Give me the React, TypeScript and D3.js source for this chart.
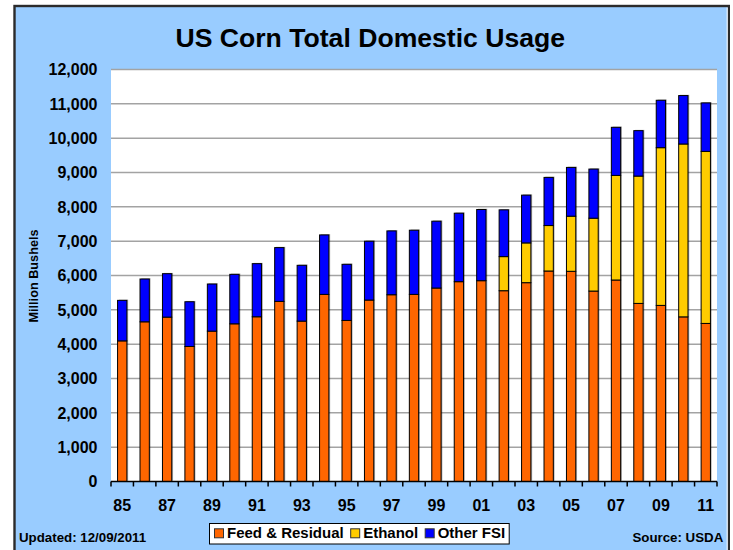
import React from "react";
import * as d3 from "d3";

const years = ["85","86","87","88","89","90","91","92","93","94","95","96","97","98","99","00","01","02","03","04","05","06","07","08","09","10","11"];
const feedResidual = [4096,4651,4788,3932,4380,4593,4798,5246,4672,5450,4691,5285,5440,5450,5635,5820,5849,5557,5791,6131,6122,5547,5869,5187,5129,4795,4604];
const ethanol = [0,0,0,0,0,0,0,0,0,0,0,0,0,0,0,0,0,993,1158,1324,1606,2122,3046,3709,4594,5035,5011];
const otherFSI = [1180,1247,1265,1304,1372,1441,1547,1567,1625,1732,1635,1713,1859,1869,1947,1995,2073,1362,1392,1402,1420,1431,1401,1323,1381,1411,1412];
const yTicks = [0,1000,2000,3000,4000,5000,6000,7000,8000,9000,10000,11000,12000];
const seriesNames = ["Feed & Residual","Ethanol","Other FSI"];
const seriesColors = ["#FF6600","#FFCC00","#0000FF"];

const FONT = "'Liberation Sans', Arial, Helvetica, sans-serif";

export default function App() {
  const W = 733, H = 550;
  const plot = { left: 111, right: 717, top: 69.5, bottom: 481.5 };

  const x = d3.scaleBand<string>().domain(years).range([plot.left, plot.right]).paddingInner(0.585).paddingOuter(0.2925);
  const step = (plot.right - plot.left) / years.length;
  const y = d3.scaleLinear().domain([0, 12000]).range([plot.bottom, plot.top]);

  const rows = years.map((yr, i) => ({ yr, s0: feedResidual[i], s1: ethanol[i], s2: otherFSI[i] }));
  const stack = d3.stack<any>().keys(["s0","s1","s2"])(rows);
  const fmt = d3.format(",");

  // legend layout
  const legendFont = 15;
  let measure = (t: string) => t.length * 8;
  if (typeof document !== "undefined") {
    const ctx = document.createElement("canvas").getContext("2d");
    if (ctx) {
      ctx.font = `bold ${legendFont}px ${FONT}`;
      measure = (t: string) => ctx.measureText(t).width;
    }
  }
  const legendX0 = 209.5, legendY0 = 523.5, legendH = 20.5;
  let cur = legendX0 + 5;
  const legendItems = seriesNames.map((n, i) => {
    const item = { n, c: seriesColors[i], sx: cur, tx: cur + 12.5 };
    cur = item.tx + measure(n) + 7;
    return item;
  });
  const legendW = cur - 3 - legendX0;

  const boundaries = d3.range(years.length + 1).map(i => plot.left + i * step);

  return (
    <svg width={W} height={H} style={{ position: "absolute", left: 0, top: 0 }} fontFamily={FONT}>
      <rect x={0} y={0} width={W} height={H} fill="#ffffff" />
      <rect x={14.5} y={6} width={714.3} height={560} fill="#99CCFF" stroke="#2b2b2b" strokeWidth={2.4} />
      <line x1={727.2} x2={727.2} y1={7.5} y2={H} stroke="#ffffff" strokeWidth={1} />
      {/* title */}
      <text x={370.3} y={46.7} textAnchor="middle" fontSize={26.6} fontWeight="bold" fill="#000">US Corn Total Domestic Usage</text>
      {/* plot area */}
      <rect x={plot.left} y={plot.top} width={plot.right - plot.left} height={plot.bottom - plot.top} fill="#ffffff" />
      {yTicks.filter(t => t > 0).map(t => (
        <line key={t} x1={plot.left} x2={plot.right} y1={y(t)} y2={y(t)} stroke="#A3A3A3" strokeWidth={1.5} />
      ))}
      {/* y labels */}
      {yTicks.map(t => (
        <text key={t} x={97.5} y={y(t) + 5.7} textAnchor="end" fontSize={16} fontWeight="bold" fill="#000">{fmt(t)}</text>
      ))}
      <text transform={`translate(37.5,276) rotate(-90)`} textAnchor="middle" fontSize={12.7} fontWeight="bold" fill="#000">Million Bushels</text>
      {/* bars */}
      {stack.map((layer, li) => (
        <g key={li}>
          {layer.map((d, i) => {
            const h = y(d[0]) - y(d[1]);
            if (h <= 0) return null;
            const bx = x(years[i])!;
            return (
              <g key={i}>
                <rect x={bx + 1.3} y={y(d[1]) - 0.8} width={x.bandwidth()} height={h} fill="#000" opacity={0.3} />
                <rect x={bx} y={y(d[1])} width={x.bandwidth()} height={h} fill={seriesColors[li]} stroke="#000" strokeWidth={1} />
              </g>
            );
          })}
        </g>
      ))}
      {/* x axis */}
      <line x1={plot.left} x2={plot.right} y1={plot.bottom} y2={plot.bottom} stroke="#000" strokeWidth={1.5} />
      {boundaries.map((bx, i) => (
        <line key={i} x1={bx} x2={bx} y1={plot.bottom} y2={plot.bottom + 5} stroke="#000" strokeWidth={1.5} />
      ))}
      {years.map((yr, i) => i % 2 === 0 ? (
        <text key={yr} x={x(yr)! + x.bandwidth() / 2} y={511} textAnchor="middle" fontSize={16} fontWeight="bold" fill="#000">{yr}</text>
      ) : null)}
      {/* footer */}
      <text x={19} y={542.3} fontSize={13.3} fontWeight="bold" fill="#000">Updated: 12/09/2011</text>
      <text x={723.3} y={541.7} textAnchor="end" fontSize={13.3} fontWeight="bold" fill="#000">Source: USDA</text>
      {/* legend */}
      <rect x={legendX0} y={legendY0} width={legendW} height={legendH} fill="#ffffff" stroke="#000" strokeWidth={1} />
      {legendItems.map(it => (
        <g key={it.n}>
          <rect x={it.sx} y={528.8} width={9} height={9} fill={it.c} stroke="#333" strokeWidth={1} />
          <text x={it.tx} y={538.2} fontSize={legendFont} fontWeight="bold" fill="#000">{it.n}</text>
        </g>
      ))}
    </svg>
  );
}
